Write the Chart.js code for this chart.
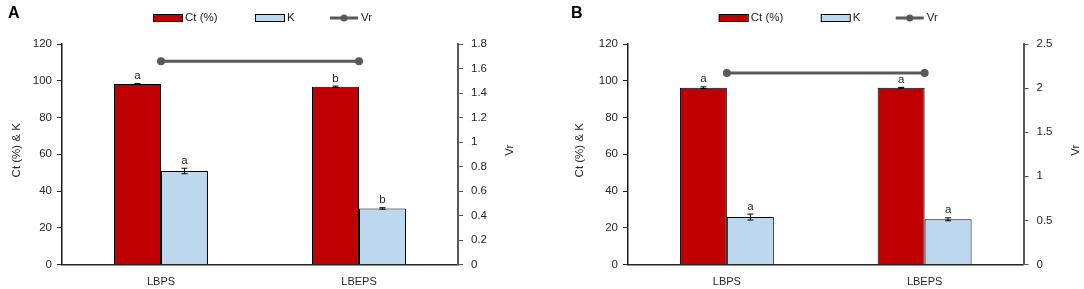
<!DOCTYPE html>
<html>
<head>
<meta charset="utf-8">
<script src="https://cdn.jsdelivr.net/npm/chart.js@4.4.1/dist/chart.umd.min.js"></script>
<style>
  body { margin: 0; background: #fff; }
  #wrapA { position: absolute; left: 0; top: 0; width: 540px; height: 289px; }
  #wrapB { position: absolute; left: 540px; top: 0; width: 544px; height: 289px; }
</style>
</head>
<body>
<div id="wrapA"><canvas id="chartA" width="540" height="289"></canvas></div>
<div id="wrapB"><canvas id="chartB" width="544" height="289"></canvas></div>
<script>
var categories = ['LBPS', 'LBEPS'];

// panel A
var ctA = [98.2, 96.7];
var ctA_err = [0.3, 0.4];
var ctA_sig = ['a', 'b'];
var kA = [50.9, 30.5];
var kA_err = [1.5, 0.4];
var kA_sig = ['a', 'b'];
var vrA = [1.66, 1.66];

// panel B
var ctB = [96.2, 96.2];
var ctB_err = [0.5, 0.2];
var ctB_sig = ['a', 'a'];
var kB = [25.8, 24.6];
var kB_err = [1.6, 0.8];
var kB_sig = ['a', 'a'];
var vrB = [2.17, 2.17];

var FONT = '"Liberation Sans", Arial, sans-serif';
var TXT = '#262626';

function extras(letter, letterX, leftTitleX, rightTitleX) {
  return {
    id: 'extras',
    afterDatasetsDraw: function(chart) {
      var ctx = chart.ctx;
      var y = chart.scales.y;
      ctx.save();
      chart.data.datasets.forEach(function(ds, di) {
        if (!ds.errors) return;
        var meta = chart.getDatasetMeta(di);
        meta.data.forEach(function(bar, i) {
          var v = ds.data[i], e = ds.errors[i];
          var yTop = y.getPixelForValue(v + e);
          var yBot = y.getPixelForValue(v - e);
          ctx.strokeStyle = '#000';
          ctx.lineWidth = 1;
          ctx.beginPath();
          ctx.moveTo(bar.x, yTop); ctx.lineTo(bar.x, yBot);
          ctx.moveTo(bar.x - 3, yTop); ctx.lineTo(bar.x + 3, yTop);
          ctx.moveTo(bar.x - 3, yBot); ctx.lineTo(bar.x + 3, yBot);
          ctx.stroke();
          ctx.fillStyle = TXT;
          ctx.font = '11.5px ' + FONT;
          ctx.textAlign = 'center';
          ctx.textBaseline = 'bottom';
          ctx.fillText(ds.letters[i], bar.x, Math.min(yTop, bar.y) - 2);
        });
      });
      ctx.restore();
    },
    afterDraw: function(chart) {
      var ctx = chart.ctx;
      var area = chart.chartArea;
      var cx = (area.left + area.right) / 2;
      var ly = 18;
      ctx.save();
      // panel letter
      ctx.fillStyle = '#000';
      ctx.font = 'bold 16px ' + FONT;
      ctx.textAlign = 'left';
      ctx.textBaseline = 'top';
      ctx.fillText(letter, letterX, 6);

      // legend
      ctx.font = '11.5px ' + FONT;
      ctx.textBaseline = 'middle';
      ctx.lineWidth = 1;
      ctx.strokeStyle = '#000';
      ctx.fillStyle = '#C00000';
      ctx.fillRect(cx - 107, ly - 4, 29, 8);
      ctx.strokeRect(cx - 107 + 0.5, ly - 4 + 0.5, 29, 7);
      ctx.fillStyle = TXT;
      ctx.fillText('Ct (%)', cx - 75, ly);
      ctx.fillStyle = '#BDD7EE';
      ctx.fillRect(cx - 5, ly - 4, 29, 8);
      ctx.strokeRect(cx - 5 + 0.5, ly - 4 + 0.5, 29, 7);
      ctx.fillStyle = TXT;
      ctx.fillText('K', cx + 27, ly);
      ctx.strokeStyle = '#595959';
      ctx.lineWidth = 3;
      ctx.beginPath();
      ctx.moveTo(cx + 70, ly); ctx.lineTo(cx + 98, ly);
      ctx.stroke();
      ctx.fillStyle = '#595959';
      ctx.beginPath();
      ctx.arc(cx + 84, ly, 3.5, 0, Math.PI * 2);
      ctx.fill();
      ctx.fillStyle = TXT;
      ctx.fillText('Vr', cx + 101, ly);

      // axis titles
      var my = (area.top + area.bottom) / 2 - 4;
      ctx.textAlign = 'center';
      ctx.font = '11.5px ' + FONT;
      ctx.translate(leftTitleX, my);
      ctx.rotate(-Math.PI / 2);
      ctx.fillText('Ct (%) & K', 0, 0);
      ctx.setTransform(1, 0, 0, 1, 0, 0);
      ctx.translate(rightTitleX, my);
      ctx.rotate(-Math.PI / 2);
      ctx.fillText('Vr', 0, 0);
      ctx.restore();
    }
  };
}

function trimTick(v) {
  return String(Number(v.toFixed(2)));
}

function makeChart(id, ct, ctErr, ctSig, k, kErr, kSig, vr, vrMax, vrStep, lay) {
  var ctx = document.getElementById(id);
  return new Chart(ctx, {
    type: 'bar',
    data: {
      labels: categories,
      datasets: [
        {
          label: 'Ct (%)',
          data: ct,
          errors: ctErr,
          letters: ctSig,
          backgroundColor: '#C00000',
          borderColor: '#000',
          borderWidth: 1,
          yAxisID: 'y'
        },
        {
          label: 'K',
          data: k,
          errors: kErr,
          letters: kSig,
          backgroundColor: '#BDD7EE',
          borderColor: '#000',
          borderWidth: 1,
          yAxisID: 'y'
        },
        {
          type: 'line',
          label: 'Vr',
          data: vr,
          borderColor: '#595959',
          backgroundColor: '#595959',
          borderWidth: 3,
          pointRadius: 4,
          pointBackgroundColor: '#595959',
          pointBorderWidth: 0,
          yAxisID: 'y1'
        }
      ]
    },
    options: {
      responsive: false,
      animation: false,
      datasets: { bar: { categoryPercentage: 0.475, barPercentage: 1 } },
      layout: { padding: { left: 0, right: lay.padRight, top: 44, bottom: 0 } },
      plugins: { legend: { display: false }, tooltip: { enabled: false } },
      scales: {
        x: {
          grid: { display: false },
          border: { display: true, color: '#262626', width: 1.5 },
          ticks: { color: TXT, font: { family: FONT, size: 11 }, padding: 3 },
          afterFit: function(s) { s.height = 24.5; }
        },
        y: {
          position: 'left',
          min: 0, max: 120,
          grid: { drawOnChartArea: false, drawTicks: true, tickLength: 5, color: '#262626' },
          border: { display: true, color: '#1a1a1a', width: 1.5 },
          ticks: { stepSize: 20, color: TXT, font: { family: FONT, size: 11.5 }, padding: 5 },
          afterFit: function(s) { s.width = lay.yWidth; }
        },
        y1: {
          position: 'right',
          min: 0, max: vrMax,
          grid: { drawOnChartArea: false, drawTicks: true, tickLength: 5, color: '#595959' },
          border: { display: true, color: '#595959', width: 2 },
          ticks: {
            stepSize: vrStep, color: TXT, font: { family: FONT, size: 11.5 }, padding: 8,
            callback: function(v) { return trimTick(v); }
          },
          afterFit: function(s) { s.width = 40; }
        }
      }
    },
    plugins: [extras(lay.letter, lay.letterX, lay.leftTitleX, lay.rightTitleX)]
  });
}

makeChart('chartA', ctA, ctA_err, ctA_sig, kA, kA_err, kA_sig, vrA, 1.8, 0.2,
  { padRight: 42, yWidth: 62, letter: 'A', letterX: 8, leftTitleX: 17, rightTitleX: 510 });
makeChart('chartB', ctB, ctB_err, ctB_sig, kB, kB_err, kB_sig, vrB, 2.5, 0.5,
  { padRight: 20.5, yWidth: 88, letter: 'B', letterX: 31, leftTitleX: 40, rightTitleX: 536 });
</script>
</body>
</html>
